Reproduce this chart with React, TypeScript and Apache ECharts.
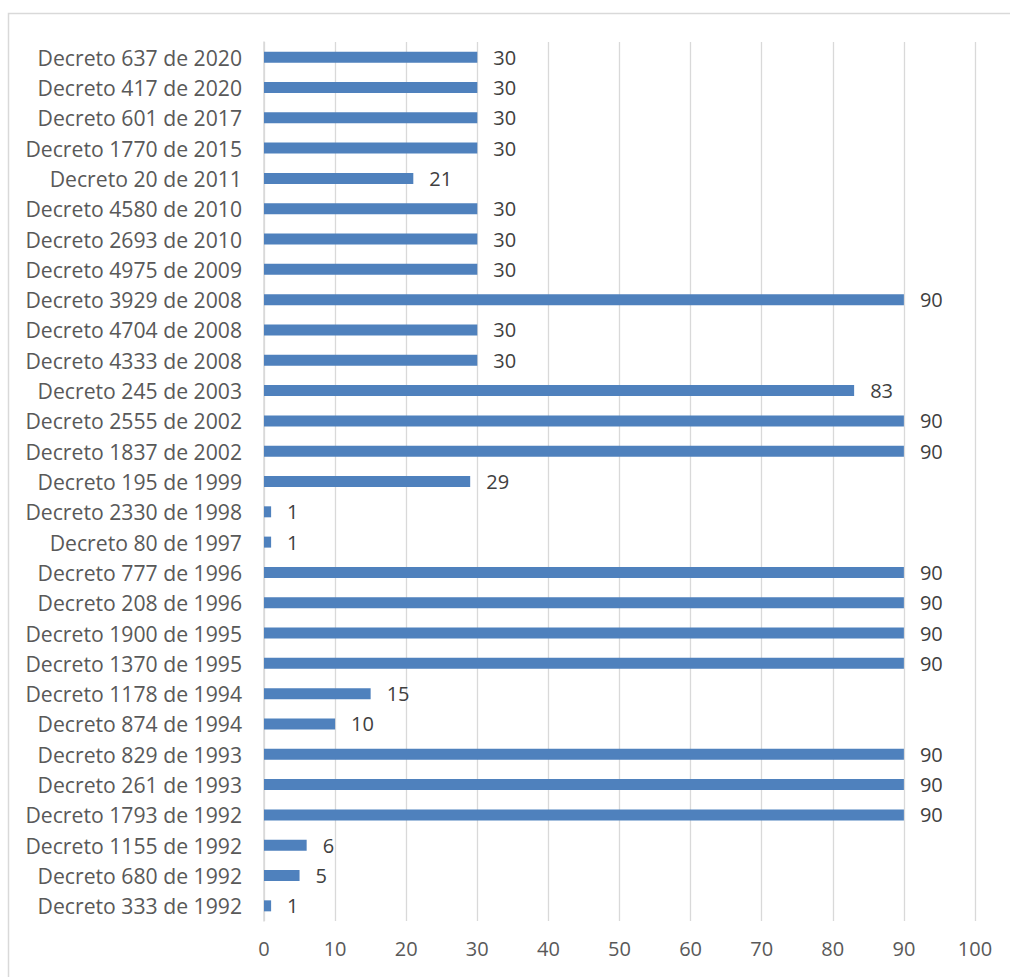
import React, { useEffect, useRef } from "react";
import * as echarts from "echarts";

// Categories listed bottom to top (first item sits next to the x axis)
const decretos = [
  "Decreto 333 de 1992",
  "Decreto 680 de 1992",
  "Decreto 1155 de 1992",
  "Decreto 1793 de 1992",
  "Decreto 261 de 1993",
  "Decreto 829 de 1993",
  "Decreto 874 de 1994",
  "Decreto 1178 de 1994",
  "Decreto 1370 de 1995",
  "Decreto 1900 de 1995",
  "Decreto 208 de 1996",
  "Decreto 777 de 1996",
  "Decreto 80 de 1997",
  "Decreto 2330 de 1998",
  "Decreto 195 de 1999",
  "Decreto 1837 de 2002",
  "Decreto 2555 de 2002",
  "Decreto 245 de 2003",
  "Decreto 4333 de 2008",
  "Decreto 4704 de 2008",
  "Decreto 3929 de 2008",
  "Decreto 4975 de 2009",
  "Decreto 2693 de 2010",
  "Decreto 4580 de 2010",
  "Decreto 20 de 2011",
  "Decreto 1770 de 2015",
  "Decreto 601 de 2017",
  "Decreto 417 de 2020",
  "Decreto 637 de 2020",
];

const dias = [
  1, 5, 6, 90, 90, 90, 10, 15, 90, 90, 90, 90, 1, 1, 29, 90, 90, 83, 30, 30, 90, 30,
  30, 30, 21, 30, 30, 30, 30,
];

const xMin = 0;
const xMax = 100;
const xStep = 10;

const FONT = "'Open Sans', 'Noto Sans', sans-serif";

export default function App() {
  const ref = useRef<HTMLDivElement>(null);

  useEffect(() => {
    if (!ref.current) return;
    const chart = echarts.init(ref.current, undefined, { renderer: "svg" });
    chart.setOption({
      animation: false,
      backgroundColor: "#ffffff",
      graphic: [
        {
          type: "rect",
          silent: true,
          shape: { x: 8.5, y: 13.5, width: 1020, height: 980 },
          style: { fill: "none", stroke: "#d9d9d9", lineWidth: 1.5 },
        },
      ],
      grid: { left: 264, right: 35, top: 42, bottom: 56, containLabel: false },
      xAxis: {
        type: "value",
        min: xMin,
        max: xMax,
        interval: xStep,
        axisLine: { show: false },
        axisTick: { show: false },
        splitLine: { show: true, lineStyle: { color: "#d9d9d9", width: 1.3 } },
        axisLabel: {
          color: "#595959",
          fontFamily: FONT,
          fontSize: 20,
          margin: 17,
        },
      },
      yAxis: {
        type: "category",
        data: decretos,
        axisLine: { show: true, lineStyle: { color: "#d9d9d9", width: 1.5 } },
        axisTick: { show: false },
        axisLabel: {
          color: "#595959",
          fontFamily: FONT,
          fontSize: 21.2,
          margin: 22,
        },
      },
      series: [
        {
          type: "bar",
          data: dias,
          barWidth: 11,
          itemStyle: { color: "#4f81bd" },
          label: {
            show: true,
            position: "right",
            distance: 16,
            color: "#404040",
            fontFamily: FONT,
            fontSize: 20,
          },
        },
      ],
    });
    return () => chart.dispose();
  }, []);

  return (
    <div
      ref={ref}
      style={{ position: "absolute", left: 0, top: 0, width: 1010, height: 977 }}
    />
  );
}
